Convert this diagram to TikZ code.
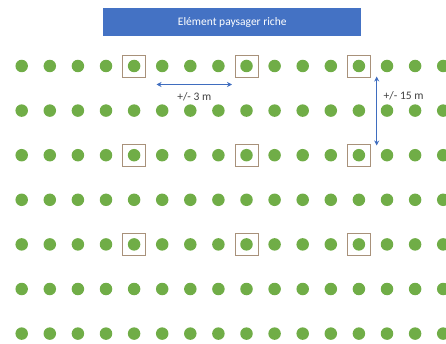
\documentclass[tikz,border=0pt]{standalone}
\usepackage{fontspec}
\setmainfont{Carlito}
\usetikzlibrary{arrows.meta,positioning}

\definecolor{treegreen}{HTML}{70AD47}
\definecolor{plotbrown}{HTML}{A8917A}
\definecolor{spanblue}{HTML}{3F6DBF}
\definecolor{titleblue}{HTML}{4472C4}

\begin{document}
\begin{tikzpicture}[
  x=1pt,y=-1pt,
  tree/.style={circle,fill=treegreen,inner sep=0pt,minimum size=12.5pt},
  plot/.style={draw=plotbrown,line width=.7pt,minimum width=23pt,minimum height=22pt,inner sep=0pt},
  span/.style={draw=spanblue,line width=1.4pt,{Stealth[length=5pt,width=5pt]}-{Stealth[length=5pt,width=5pt]}},
  label/.style={font=\fontsize{11.5}{13}\selectfont,text=black!75}
]
  \useasboundingbox (0,0) rectangle (446,344);

  \node[fill=titleblue,minimum width=258pt,minimum height=28pt,inner sep=0pt,
        text=white,font=\fontsize{11.5}{13}\selectfont] (title) at (232.3,22.3) {Elément paysager riche};

  % grid of trees
  \foreach \r in {1,...,7}
    \foreach \c in {1,...,16}
      \node[tree] (t-\r-\c) at ({21.7+28.1*(\c-1)},{66+44.6*(\r-1)}) {};

  % framed trees
  \foreach \r in {1,3,5}
    \foreach \c in {5,9,13}
      \node[plot] (p-\r-\c) at (t-\r-\c) {};

  \coordinate (h-start) at (156.5,84.5);
  \coordinate (h-end) at (232,84.5);
  \coordinate (v-start) at (376.7,76.5);
  \coordinate (v-end) at (376.7,145.5);

  \draw[span] (h-start) -- node[label,below=3.5pt] (h-lab) {+/- 3 m} (h-end);
  \draw[span] (v-start) -- node[label,pos=.28,right=3pt] (v-lab) {+/- 15 m} (v-end);
\end{tikzpicture}
\end{document}
